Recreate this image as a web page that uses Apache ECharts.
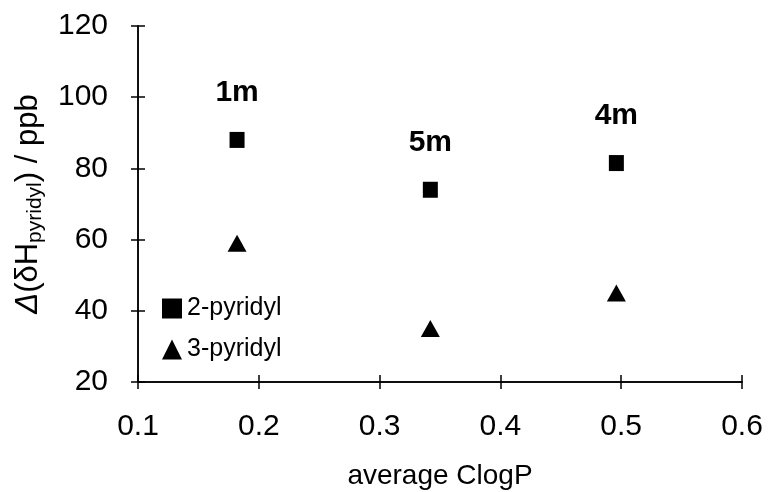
<!DOCTYPE html>
<html>
<head>
<meta charset="utf-8">
<script src="https://cdn.jsdelivr.net/npm/echarts@6/dist/echarts.min.js"></script>
<style>
  html, body { margin: 0; padding: 0; background: #fff; }
  #main { width: 769px; height: 492px; }
</style>
</head>
<body>
<div id="main"></div>
<script>
  // data
  var clogP = [0.182, 0.342, 0.496];
  var compounds = ['1m', '5m', '4m'];
  var pyridyl2 = [88, 74, 81.5];
  var pyridyl3 = [59, 35, 45];

  var chart = echarts.init(document.getElementById('main'));
  var font = 'Liberation Sans, Arial, sans-serif';

  var baseX = {
    type: 'value', min: 0.1, max: 0.6, interval: 0.1,
    splitLine: { show: false },
    axisLine: { onZero: false, lineStyle: { color: '#000', width: 1.5 } }
  };
  var baseY = {
    type: 'value', min: 20, max: 120, interval: 20,
    splitLine: { show: false },
    axisLine: { onZero: false, lineStyle: { color: '#000', width: 1.5 } }
  };

  var option = {
    animation: false,
    textStyle: { fontFamily: font },
    grid: { left: 138, right: 27, top: 26, bottom: 110, outerBoundsMode: 'none' },
    legend: {
      orient: 'vertical', left: 162, top: 296,
      itemWidth: 20, itemHeight: 20, itemGap: 16, padding: 0,
      textStyle: { fontSize: 25, color: '#000', fontFamily: font },
      data: [
        { name: '2-pyridyl', icon: 'rect' },
        { name: '3-pyridyl', icon: 'triangle' }
      ]
    },
    xAxis: [
      Object.assign({}, baseX, {
        name: 'average ClogP', nameLocation: 'middle', nameGap: 80,
        nameTextStyle: { fontSize: 28, color: '#000', fontFamily: font },
        axisTick: { length: 7, lineStyle: { color: '#000', width: 1.5 } },
        axisLabel: { fontSize: 30, color: '#000', margin: 30, fontFamily: font,
          formatter: function (v) { return v.toFixed(1); } }
      }),
      Object.assign({}, baseX, {
        position: 'bottom',
        axisTick: { inside: true, length: 7, lineStyle: { color: '#000', width: 1.5 } },
        axisLabel: { show: false }
      })
    ],
    yAxis: [
      Object.assign({}, baseY, {
        name: '{i|Δ}(δH{sub|pyridyl}) / ppb', nameLocation: 'middle', nameGap: 92,
        nameTextStyle: {
          fontSize: 31, color: '#000', fontFamily: font,
          rich: {
            i: { fontSize: 31, fontStyle: 'italic', color: '#000', fontFamily: font },
            sub: { fontSize: 21, color: '#000', fontFamily: font, verticalAlign: 'bottom', padding: [15, 0, 0, 0] }
          }
        },
        axisTick: { length: 7, lineStyle: { color: '#000', width: 1.5 } },
        axisLabel: { fontSize: 30, color: '#000', margin: 30, fontFamily: font }
      }),
      Object.assign({}, baseY, {
        position: 'left',
        axisTick: { inside: true, length: 7, lineStyle: { color: '#000', width: 1.5 } },
        axisLabel: { show: false }
      })
    ],
    series: [
      {
        name: '2-pyridyl', type: 'scatter', symbol: 'rect', symbolSize: [15, 16],
        itemStyle: { color: '#000', opacity: 1 },
        label: {
          show: true, position: 'top', distance: 24,
          fontSize: 30, fontWeight: 'bold', color: '#000', fontFamily: font,
          formatter: function (p) { return compounds[p.dataIndex]; }
        },
        data: clogP.map(function (x, i) { return [x, pyridyl2[i]]; })
      },
      {
        name: '3-pyridyl', type: 'scatter', symbol: 'triangle', symbolSize: [19, 17],
        itemStyle: { color: '#000', opacity: 1 },
        data: clogP.map(function (x, i) { return [x, pyridyl3[i]]; })
      }
    ]
  };
  chart.setOption(option);
</script>
</body>
</html>
